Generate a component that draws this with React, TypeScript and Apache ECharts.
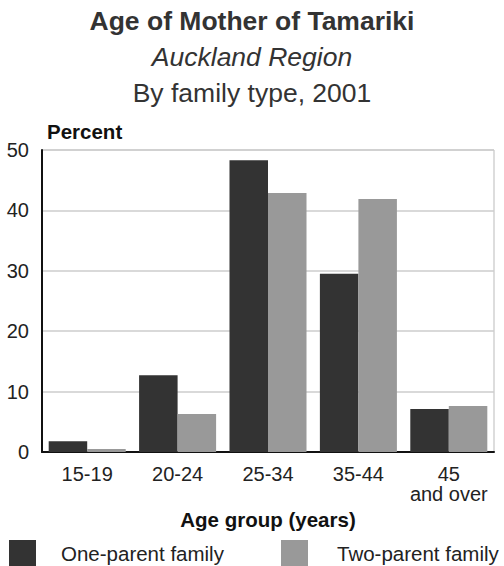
import React, { useEffect, useRef } from "react";
import * as echarts from "echarts";

const categories = ["15-19", "20-24", "25-34", "35-44", "45\nand over"];
const oneParent = [1.8, 12.7, 48.3, 29.5, 7.1];
const twoParent = [0.5, 6.3, 42.9, 41.9, 7.6];
const yTicks = [0, 10, 20, 30, 40, 50];

const FONT = "'Liberation Sans', Arial, sans-serif";

export default function App() {
  const ref = useRef<HTMLDivElement>(null);
  useEffect(() => {
    const chart = echarts.init(ref.current!, null, { renderer: "svg" });
    chart.setOption({
      animation: false,
      textStyle: { fontFamily: FONT },
      title: [
        {
          text: "Age of Mother of Tamariki",
          left: "center",
          top: 7,
          padding: 0,
          textStyle: { fontSize: 26.5, fontWeight: "bold", color: "#333", fontFamily: FONT },
        },
        {
          text: "Auckland Region",
          left: "center",
          top: 43,
          padding: 0,
          textStyle: { fontSize: 26.5, fontStyle: "italic", fontWeight: "normal", color: "#333", fontFamily: FONT },
        },
        {
          text: "By family type, 2001",
          left: "center",
          top: 79,
          padding: 0,
          textStyle: { fontSize: 26.5, fontWeight: "normal", color: "#333", fontFamily: FONT },
        },
      ],
      legend: [
        {
          data: ["One-parent family"],
          left: 9,
          top: 540,
          padding: 0,
          icon: "rect",
          itemWidth: 27,
          itemHeight: 26,
          textStyle: { fontSize: 20.5, color: "#222", padding: [0, 0, 0, 20], fontFamily: FONT },
        },
        {
          data: ["Two-parent family"],
          left: 281,
          top: 540,
          padding: 0,
          icon: "rect",
          itemWidth: 27,
          itemHeight: 26,
          textStyle: { fontSize: 20.5, color: "#222", padding: [0, 0, 0, 24], fontFamily: FONT },
        },
      ],
      grid: {
        left: 42,
        right: 10,
        top: 150,
        height: 302,
        show: true,
        borderColor: "#bbb",
        borderWidth: 1,
      },
      xAxis: {
        type: "category",
        data: categories,
        name: "Age group (years)",
        nameLocation: "middle",
        nameGap: 52,
        nameTextStyle: { fontSize: 20.5, fontWeight: "bold", color: "#111", fontFamily: FONT },
        axisLine: { show: true, lineStyle: { color: "#111", width: 2 } },
        axisTick: { show: false },
        axisLabel: { interval: 0, fontSize: 20, color: "#222", margin: 12, lineHeight: 20, fontFamily: FONT },
      },
      yAxis: {
        type: "value",
        min: yTicks[0],
        max: yTicks[yTicks.length - 1],
        interval: 10,
        name: "Percent",
        nameLocation: "end",
        nameGap: 8,
        nameTextStyle: {
          fontSize: 20.5,
          fontWeight: "bold",
          color: "#111",
          align: "left",
          verticalAlign: "bottom",
          padding: [0, 0, 0, 5],
          fontFamily: FONT,
        },
        axisLine: { show: true, lineStyle: { color: "#111", width: 2 } },
        axisTick: { show: false },
        axisLabel: { fontSize: 20, color: "#222", margin: 13, fontFamily: FONT },
        splitLine: { show: true, lineStyle: { color: "#ccc", width: 1.5 } },
      },
      series: [
        {
          name: "One-parent family",
          type: "bar",
          data: oneParent,
          itemStyle: { color: "#333333" },
          barWidth: "42.6%",
          barGap: "0%",
        },
        {
          name: "Two-parent family",
          type: "bar",
          data: twoParent,
          itemStyle: { color: "#999999" },
          barWidth: "42.6%",
          barGap: "0%",
        },
      ],
    });
    return () => chart.dispose();
  }, []);
  return <div ref={ref} style={{ width: 504, height: 566, position: "absolute", left: 0, top: 0 }} />;
}
